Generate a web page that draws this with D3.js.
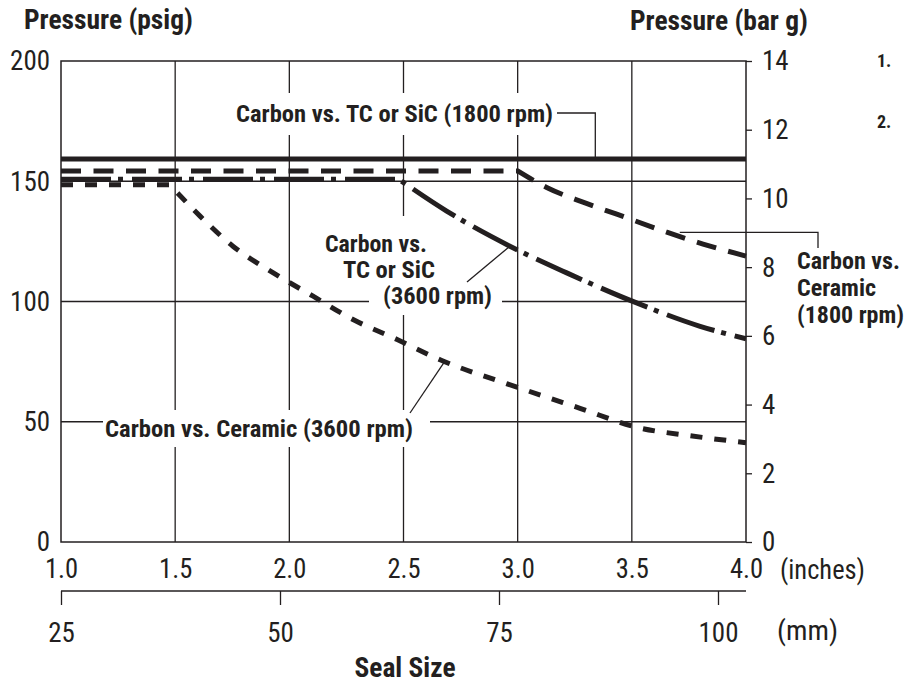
<!DOCTYPE html>
<html><head><meta charset="utf-8">
<script src="https://cdn.jsdelivr.net/npm/d3@7"></script>
<style>
body{margin:0;background:#fff}
svg text{font-family:"Liberation Sans Narrow","Arial Narrow","Roboto Condensed",Roboto,"Liberation Sans",sans-serif}
</style></head><body>
<svg id="chart" width="906" height="683"></svg>
<script>
// ---------- data ----------
const inchTicks = [1.0, 1.5, 2.0, 2.5, 3.0, 3.5, 4.0];
const mmTicks = [25, 50, 75, 100];
const psiTicks = [0, 50, 100, 150, 200];
const barTicks = [0, 2, 4, 6, 8, 10, 12, 14];

// seal size (inches), pressure (psig)
const tcSic1800 = [[1.0, 159.2], [4.0, 159.2]];
const ceramic1800 = [[1.0, 154.3], [3.0, 154.3], [3.127, 147.4], [3.286, 141.3], [3.434, 136.3], [3.653, 128.8], [3.812, 123.9], [4.0, 118.9]];
const tcSic3600 = [[1.0, 150.8], [2.48, 150.8], [2.689, 137.6], [2.966, 123.0], [3.215, 111.9], [3.521, 99.4], [3.799, 89.7], [4.0, 84.5]];
const ceramic3600 = [[1.0, 148.5], [1.477, 148.5], [1.609, 135.5], [1.753, 123.0], [1.928, 112.0], [2.104, 102.2], [2.279, 92.5], [2.472, 84.2], [2.66, 75.8], [3.0, 64.3], [3.273, 55.6], [3.526, 47.6], [3.755, 44.2], [4.0, 41.3]];

const seriesLabels = ["Carbon vs. TC or SiC (1800 rpm)", "Carbon vs. Ceramic (1800 rpm)", "Carbon vs. TC or SiC (3600 rpm)", "Carbon vs. Ceramic (3600 rpm)"];

// ---------- setup ----------
const W = 906, H = 683;
const ink = "#231f20";
const svg = d3.select("#chart");
svg.append("rect").attr("width", W).attr("height", H).attr("fill", "#fff");

const x = d3.scaleLinear().domain([1, 4]).range([61, 746]);
const y = d3.scaleLinear().domain([0, 200]).range([542, 61]);
const yBar = d3.scaleLinear().domain([0, 14]).range([542, 61]);
const xMm = d3.scaleLinear().domain([25, 100]).range([61, 718]);

// condensed look: fixed advance per glyph
const charW = { ".": 6.6, "(": 8.5, ")": 8.5 };
const condensedWidth = s => [...String(s)].reduce((a, c) => a + (charW[c] || 13.3), 0);

// ---------- grid ----------
const grid = svg.append("g").attr("stroke", ink).attr("stroke-width", 1.3);
grid.selectAll("line.v").data(inchTicks.slice(1, -1)).join("line").attr("class", "v")
  .attr("x1", d => x(d)).attr("x2", d => x(d)).attr("y1", y(200)).attr("y2", y(0));
grid.selectAll("line.h").data(psiTicks.slice(1, -1)).join("line").attr("class", "h")
  .attr("y1", d => y(d)).attr("y2", d => y(d)).attr("x1", x(1)).attr("x2", x(4));

// ---------- annotations (with white backing) ----------
const notes = [
  { lines: [seriesLabels[0]], xs: [236], ys: [122], ws: [317], pad: [10, 7, 10, 7], bg: true },
  { lines: ["Carbon vs.", "TC or SiC", "(3600 rpm)"], xs: [325, 343, 383], ys: [252, 278, 304], ws: [102, 92, 109], pad: [14, 14, 10, 5], bg: true },
  { lines: [seriesLabels[3]], xs: [105], ys: [437], ws: [308], pad: [2, 5, 17, 4], bg: true },
  { lines: ["Carbon vs.", "Ceramic", "(1800 rpm)"], xs: [797, 797, 797], ys: [269, 296, 323], ws: [103, 79, 107], pad: [0, 0, 0, 0], bg: false }
];
const noteG = svg.append("g");
notes.forEach(n => {
  const g = noteG.append("g");
  const texts = n.lines.map((t, i) => g.append("text")
    .attr("x", n.xs[i]).attr("y", n.ys[i])
    .attr("font-size", 24).attr("font-weight", "bold").attr("fill", ink)
    .attr("textLength", n.ws[i]).attr("lengthAdjust", "spacingAndGlyphs")
    .text(t));
  if (n.bg) {
    texts.forEach(t => {
      const b = t.node().getBBox();
      g.insert("rect", "text")
        .attr("x", b.x - n.pad[0]).attr("y", b.y - n.pad[1])
        .attr("width", b.width + n.pad[0] + n.pad[2]).attr("height", b.height + n.pad[1] + n.pad[3])
        .attr("fill", "#fff");
    });
  }
});

// leader lines
const leaderG = svg.append("g").attr("fill", "none").attr("stroke", ink).attr("stroke-width", 1.3);
leaderG.append("path").attr("d", `M557,113H${x(3.34)}V${y(159.2)}`);
leaderG.append("path").attr("d", `M${x(3.71)},${y(128.75)}H818V248`);
leaderG.append("path").attr("d", `M467,282L${x(2.966)},${y(123)}`);
leaderG.append("path").attr("d", `M410,413L${x(2.68)},${y(75)}`);

// ---------- series ----------
const lin = d3.line().x(d => x(d[0])).y(d => y(d[1]));
const mono = d3.line().curve(d3.curveMonotoneX).x(d => x(d[0])).y(d => y(d[1]));
function seriesPath(data) {
  let k = data.findIndex(d => d[1] !== data[0][1]);
  if (k < 0) return lin(data);
  k -= 1; // corner point: end of flat run
  return lin(data.slice(0, k + 1)) + mono(data.slice(k)).replace(/^M/, "L");
}
const series = [
  { data: tcSic1800, dash: null },
  { data: ceramic1800, dash: "20,12.5" },
  { data: tcSic3600, dash: "50,7,5,9" },
  { data: ceramic3600, dash: "12,12" }
];
svg.append("g").selectAll("path").data(series).join("path")
  .attr("d", d => seriesPath(d.data))
  .attr("fill", "none").attr("stroke", ink).attr("stroke-width", 5)
  .attr("stroke-dasharray", d => d.dash);

// ---------- frame ----------
svg.append("rect").attr("x", x(1)).attr("y", y(200))
  .attr("width", x(4) - x(1)).attr("height", y(0) - y(200))
  .attr("fill", "none").attr("stroke", ink).attr("stroke-width", 1.5);

// ---------- axes ----------
function styleAxis(g) {
  g.attr("font-family", null).attr("font-size", 28);
  g.select(".domain").remove();
  g.selectAll("text").attr("fill", ink)
    .attr("textLength", function () { return condensedWidth(this.textContent); })
    .attr("lengthAdjust", "spacingAndGlyphs");
  g.selectAll("line").attr("stroke", ink).attr("stroke-width", 1.3);
}
svg.append("g").attr("transform", `translate(${x(1)},0)`)
  .call(d3.axisLeft(y).tickValues(psiTicks).tickSize(0).tickPadding(11).tickFormat(d3.format("d")))
  .call(styleAxis);
svg.append("g").attr("transform", `translate(${x(4)},0)`)
  .call(d3.axisRight(yBar).tickValues(barTicks).tickSize(6).tickPadding(10).tickFormat(d3.format("d")))
  .call(styleAxis);
svg.append("g").attr("transform", `translate(0,${y(0)})`)
  .call(d3.axisBottom(x).tickValues(inchTicks).tickSize(0).tickPadding(16).tickFormat(d3.format(".1f")))
  .call(styleAxis);
const mmG = svg.append("g").attr("transform", "translate(0,591)")
  .call(d3.axisBottom(xMm).tickValues(mmTicks).tickSize(14).tickPadding(17).tickFormat(d3.format("d")))
  .call(styleAxis);
mmG.append("line").attr("x1", x(1)).attr("x2", x(4)).attr("stroke", ink).attr("stroke-width", 1.5);

// ---------- titles ----------
const plain = (t, px, py, opts = {}) => {
  const el = svg.append("text").attr("x", px).attr("y", py)
    .attr("font-size", opts.size || 28).attr("font-weight", opts.bold ? "bold" : "normal")
    .attr("text-anchor", opts.anchor || "start").attr("fill", ink).text(t);
  if (opts.w) el.attr("textLength", opts.w).attr("lengthAdjust", "spacingAndGlyphs");
  return el;
};
plain("Pressure (psig)", 24, 29, { bold: true, w: 169 });
plain("Pressure (bar g)", 630, 30, { bold: true, w: 178 });
plain("(inches)", 780, 579, { w: 85 });
plain("(mm)", 777, 640, { w: 61 });
plain("Seal Size", 405, 677, { bold: true, anchor: "middle", w: 101 });
plain("1.", 877, 67, { bold: true, size: 18 });
plain("2.", 877, 128, { bold: true, size: 18 });
</script>
</body></html>
